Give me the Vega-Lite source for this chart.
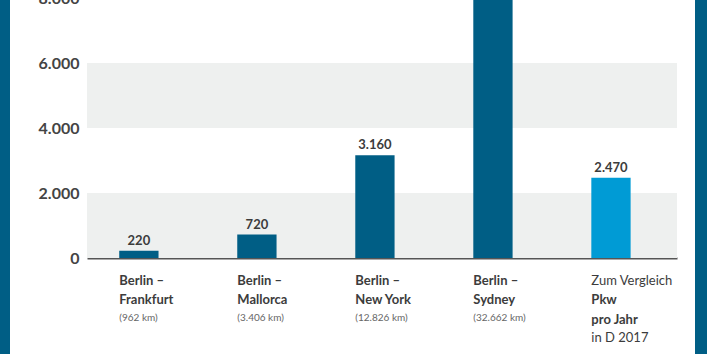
{
  "$schema": "https://vega.github.io/schema/vega-lite/v6.json",
  "autosize": {"type": "pad"},
  "padding": {"left": 0, "top": -10, "right": 0, "bottom": 0},
  "background": "white",
  "spacing": 0,
  "config": {
    "view": {"stroke": null},
    "font": "Lato",
    "locale": {"number": {"decimal": ",", "thousands": ".", "grouping": [3], "currency": ["", " €"]}}
  },
  "datasets": {
    "flights": [
      {"route": "Frankfurt", "co2": 220, "type": "Flug"},
      {"route": "Mallorca", "co2": 720, "type": "Flug"},
      {"route": "New York", "co2": 3160, "type": "Flug"},
      {"route": "Sydney", "co2": 11290, "type": "Flug"},
      {"route": "Vergleich", "co2": 2470, "type": "Pkw"}
    ],
    "bands": [
      {"from": 0, "to": 2000},
      {"from": 4000, "to": 6000}
    ]
  },
  "hconcat": [
    {
      "width": 10,
      "height": 364,
      "view": {"fill": "#005e85", "stroke": null},
      "data": {"values": [{}]},
      "mark": {"type": "point", "opacity": 0},
      "encoding": {}
    },
    {
      "width": 590,
      "height": 260,
      "resolve": {"axis": {"x": "independent", "y": "independent"}},
      "layer": [
        {
          "data": {"name": "bands"},
          "mark": {"type": "rect", "color": "#eef0ef"},
          "encoding": {
            "y": {
              "field": "from",
              "type": "quantitative",
              "scale": {"domain": [0, 8000], "nice": false},
              "axis": {
                "orient": "left",
                "values": [0, 2000, 4000, 6000, 8000],
                "format": ",d",
                "title": null,
                "grid": false,
                "domain": false,
                "ticks": false,
                "tickSize": 0,
                "labelPadding": 8,
                "labelFontSize": 16,
                "labelFontWeight": "bold",
                "labelColor": "#444444",
                "minExtent": 77,
                "maxExtent": 77
              }
            },
            "y2": {"field": "to"}
          }
        },
        {
          "data": {"name": "flights"},
          "mark": {"type": "bar", "clip": true},
          "encoding": {
            "x": {
              "field": "route",
              "type": "nominal",
              "sort": null,
              "scale": {"paddingInner": 0.667, "paddingOuter": 0.333, "align": 0.41},
              "axis": {
                "orient": "bottom",
                "title": null,
                "ticks": false,
                "tickSize": 0,
                "domain": true,
                "domainColor": "#555555",
                "domainWidth": 2,
                "labelAngle": 0,
                "labelAlign": "left",
                "labelOffset": -19.6,
                "labelBaseline": "alphabetic",
                "labelPadding": 26,
                "labelLineHeight": 19.5,
                "labelFontSize": 13,
                "labelFontWeight": "bold",
                "labelColor": "#3c3c3c",
                "labelLimit": 0,
                "labelOverlap": false,
                "labelExpr": "datum.value == 'Vergleich' ? ['', 'Pkw', 'pro Jahr'] : ['Berlin –', datum.value]"
              }
            },
            "y": {
              "field": "co2",
              "type": "quantitative",
              "scale": {"domain": [0, 8000], "nice": false},
              "axis": null
            },
            "color": {
              "field": "type",
              "type": "nominal",
              "scale": {"domain": ["Flug", "Pkw"], "range": ["#005e85", "#009bd5"]},
              "legend": null
            }
          }
        },
        {
          "data": {"name": "flights"},
          "mark": {"type": "text", "clip": true, "dy": -6, "baseline": "alphabetic", "fontSize": 13, "fontWeight": "bold", "color": "#3c3c3c"},
          "encoding": {
            "x": {
              "field": "route",
              "type": "nominal",
              "sort": null,
              "axis": {
                "orient": "bottom",
                "title": null,
                "ticks": false,
                "tickSize": 0,
                "domain": false,
                "labelAngle": 0,
                "labelAlign": "left",
                "labelOffset": -19.6,
                "labelBaseline": "alphabetic",
                "labelLimit": 0,
                "labelOverlap": false,
                "labelColor": {"condition": {"test": "datum.value == 'Vergleich'", "value": "#3c3c3c"}, "value": "#666666"},
                "labelFontSize": {"condition": {"test": "datum.value == 'Vergleich'", "value": 13}, "value": 10},
                "labelPadding": {"condition": {"test": "datum.value == 'Vergleich'", "value": 26}, "value": 62},
                "labelExpr": "datum.value == 'Vergleich' ? 'Zum Vergleich' : datum.value == 'Frankfurt' ? '(962 km)' : datum.value == 'Mallorca' ? '(3.406 km)' : datum.value == 'New York' ? '(12.826 km)' : '(32.662 km)'"
              }
            },
            "y": {
              "field": "co2",
              "type": "quantitative",
              "axis": {
                "orient": "right",
                "title": null,
                "labels": false,
                "ticks": false,
                "domain": false,
                "grid": false,
                "minExtent": 18,
                "maxExtent": 18
              }
            },
            "text": {"field": "co2", "type": "quantitative", "format": ",d"}
          }
        },
        {
          "data": {"name": "flights"},
          "mark": {"type": "text", "text": ""},
          "encoding": {
            "x": {
              "field": "route",
              "type": "nominal",
              "sort": null,
              "axis": {
                "orient": "bottom",
                "title": null,
                "ticks": false,
                "tickSize": 0,
                "domain": false,
                "labelAngle": 0,
                "labelAlign": "left",
                "labelOffset": -19.6,
                "labelBaseline": "alphabetic",
                "labelPadding": 83,
                "labelFontSize": 13,
                "labelColor": "#3c3c3c",
                "labelLimit": 0,
                "labelOverlap": false,
                "labelExpr": "datum.value == 'Vergleich' ? 'in D 2017' : ''"
              }
            }
          }
        }
      ]
    },
    {
      "width": 12,
      "height": 364,
      "view": {"fill": "#005e85", "stroke": null},
      "data": {"values": [{}]},
      "mark": {"type": "point", "opacity": 0},
      "encoding": {}
    }
  ]
}
